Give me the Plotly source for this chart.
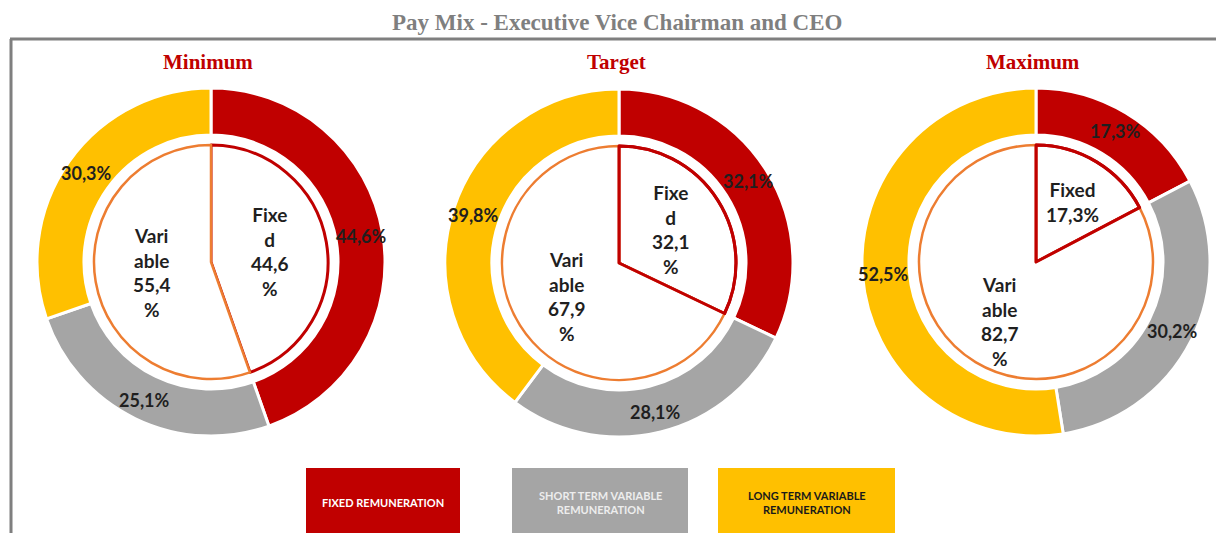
import math
import plotly.graph_objects as go

# ---- data -------------------------------------------------------------
scenarios = ["Minimum", "Target", "Maximum"]
components = ["Fixed remuneration", "Short term variable remuneration",
              "Long term variable remuneration"]
# outer ring: share of each component (%)
fixed_pct = [44.6, 32.1, 17.3]
short_term_pct = [25.1, 28.1, 30.2]
long_term_pct = [30.3, 39.8, 52.5]
# inner pie: fixed vs variable (%)
inner_labels = ["Fixed", "Variable"]
variable_pct = [55.4, 67.9, 82.7]
legend_labels = ["FIXED REMUNERATION", "SHORT TERM VARIABLE<br>REMUNERATION",
                 "LONG TERM VARIABLE<br>REMUNERATION"]

# ---- styling ------------------------------------------------------------
W, H = 1216, 533
RED, GREY, GOLD, ORANGE = "#C00000", "#A5A5A5", "#FFC000", "#ED7D31"
TEXT = "#1f1f1f"
LABEL_FONT = "Lato, Carlito, 'Open Sans', sans-serif"
SERIF = "'Liberation Serif', 'Times New Roman', serif"

centers = [(211, 262), (619, 263), (1036, 262)]   # pixel centres of the donuts
R_OUT, R_IN = 174, 117                              # outer ring / inner pie radii
HOLE = 0.73
R_RING_LABEL = 153                                  # radius of the ring labels
inner_label_r = [60, 62, 70]                        # radius of the inner labels
fixed_on_top = [False, True, True]                  # fixed outline drawn over variable


def px_x(x):
    return x / W


def px_y(y):
    return 1 - y / H


def pct(v):
    return f"{v:.1f}".replace(".", ",") + "%"


def wrap_inner(word, v):
    num = f"{v:.1f}".replace(".", ",")
    if word == "Fixed" and v < 20:
        return f"Fixed<br>{num}%"
    if word == "Fixed":
        return f"Fixe<br>d<br>{num}<br>%"
    return f"Vari<br>able<br>{num}<br>%"


def slice_label_points(values, cx, cy, r):
    """Mid-angle positions (pixels) of clockwise slices starting at 12 o'clock."""
    total = sum(values)
    pts, acc = [], 0.0
    for v in values:
        theta = 2 * math.pi * (acc + v / 2) / total
        pts.append((cx + r * math.sin(theta), cy - r * math.cos(theta)))
        acc += v
    return pts


fig = go.Figure()
annotations = []

for i, (cx, cy) in enumerate(centers):
    outer_vals = [fixed_pct[i], short_term_pct[i], long_term_pct[i]]
    fig.add_trace(go.Pie(
        values=outer_vals,
        labels=components,
        textinfo="none",
        hole=HOLE,
        sort=False,
        direction="clockwise",
        rotation=0,
        marker=dict(colors=[RED, GREY, GOLD], line=dict(color="white", width=3)),
        domain=dict(x=[px_x(cx - R_OUT), px_x(cx + R_OUT)],
                    y=[px_y(cy + R_OUT), px_y(cy - R_OUT)]),
        showlegend=False,
        hoverinfo="label+percent",
    ))
    for v, (lx, ly) in zip(outer_vals,
                           slice_label_points(outer_vals, cx, cy, R_RING_LABEL)):
        annotations.append(dict(
            text=f"<b>{pct(v)}</b>", x=px_x(lx), y=px_y(ly),
            xref="paper", yref="paper", xanchor="center", yanchor="middle",
            showarrow=False,
            font=dict(family=LABEL_FONT, size=18, color=TEXT)))

    inner_vals = [fixed_pct[i], variable_pct[i]]
    inner_domain = dict(x=[px_x(cx - R_IN), px_x(cx + R_IN)],
                        y=[px_y(cy + R_IN), px_y(cy - R_IN)])
    fig.add_trace(go.Pie(
        values=inner_vals,
        labels=inner_labels,
        textinfo="none",
        sort=False,
        direction="clockwise",
        rotation=0,
        marker=dict(colors=["white", "white"],
                    line=dict(color=[RED, ORANGE], width=[3, 2.5])),
        domain=inner_domain,
        showlegend=False,
        hoverinfo="label+percent",
    ))
    if fixed_on_top[i]:
        # redraw the fixed wedge outline above the variable one
        fig.add_trace(go.Pie(
            values=inner_vals,
            labels=inner_labels,
            textinfo="none",
            sort=False,
            direction="clockwise",
            rotation=0,
            marker=dict(colors=["rgba(0,0,0,0)", "rgba(0,0,0,0)"],
                        line=dict(color=[RED, "rgba(0,0,0,0)"], width=[3, 0])),
            domain=inner_domain,
            showlegend=False,
            hoverinfo="skip",
        ))
    for w, v, (lx, ly) in zip(inner_labels, inner_vals,
                              slice_label_points(inner_vals, cx, cy,
                                                 inner_label_r[i])):
        annotations.append(dict(
            text=f"<b>{wrap_inner(w, v)}</b>", x=px_x(lx), y=px_y(ly),
            xref="paper", yref="paper", xanchor="center", yanchor="middle",
            showarrow=False,
            font=dict(family=LABEL_FONT, size=19, color=TEXT)))

annotations.append(dict(
    text="<b>Pay Mix - Executive Vice Chairman and CEO</b>",
    x=px_x(617), y=px_y(23), xref="paper", yref="paper",
    xanchor="center", yanchor="middle", showarrow=False,
    font=dict(family=SERIF, size=23, color="#7F7F7F")))
for name, (cx, _) in zip(scenarios, centers):
    annotations.append(dict(
        text=f"<b>{name}</b>", x=px_x(cx - 3), y=px_y(62),
        xref="paper", yref="paper", xanchor="center", yanchor="middle",
        showarrow=False, font=dict(family=SERIF, size=21, color=RED)))

shapes = [
    # frame
    dict(type="line", xref="paper", yref="paper",
         x0=px_x(11), x1=px_x(11), y0=0, y1=px_y(39),
         line=dict(color="#7F7F7F", width=3)),
    dict(type="line", xref="paper", yref="paper",
         x0=px_x(10), x1=1, y0=px_y(39), y1=px_y(39),
         line=dict(color="#7F7F7F", width=3)),
]

# legend boxes
legend_boxes = [(306, 460, RED, "white"), (512, 688, GREY, "#EDEDED"),
                (718, 895, GOLD, "#1a1a1a")]
for (x0, x1, fill, tcol), lab in zip(legend_boxes, legend_labels):
    shapes.append(dict(type="rect", xref="paper", yref="paper",
                       x0=px_x(x0), x1=px_x(x1), y0=0, y1=px_y(468),
                       fillcolor=fill, line=dict(width=0), layer="below"))
    annotations.append(dict(
        text=f"<b>{lab}</b>", x=px_x((x0 + x1) / 2), y=px_y(502),
        xref="paper", yref="paper", xanchor="center", yanchor="middle",
        showarrow=False,
        font=dict(family=LABEL_FONT, size=11, color=tcol)))

fig.update_layout(
    width=W, height=H,
    margin=dict(l=0, r=0, t=0, b=0),
    paper_bgcolor="white",
    plot_bgcolor="white",
    annotations=annotations,
    shapes=shapes,
    showlegend=False,
)

fig.write_html("out.html")
